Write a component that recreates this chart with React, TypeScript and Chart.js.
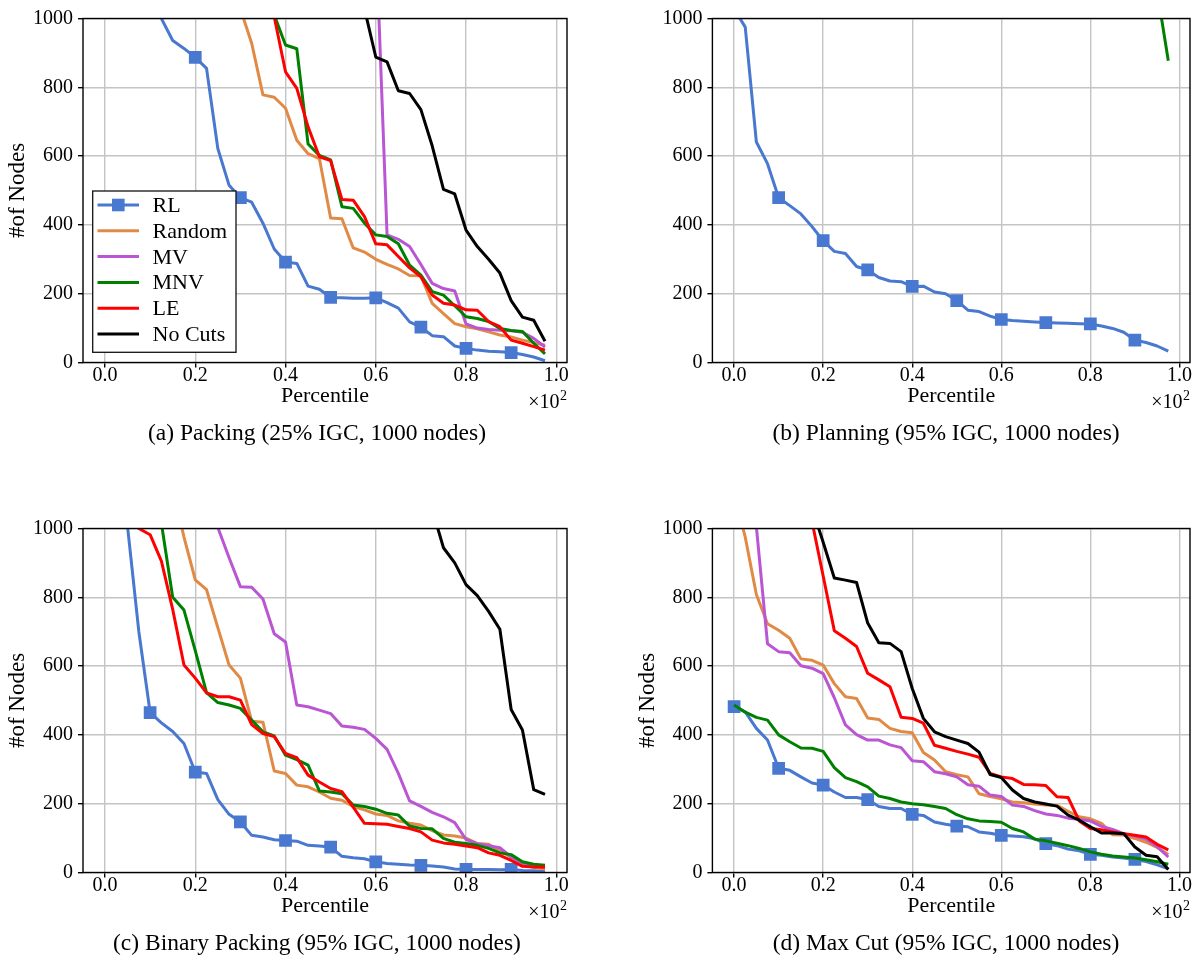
import React, { useEffect, useRef } from "react";
import { Chart, registerables } from "chart.js";

Chart.register(...registerables);

// ---------------- data ----------------
const PERCENTILES = [
  0, 0.025, 0.05, 0.075, 0.1, 0.125, 0.15, 0.175, 0.2, 0.225,
  0.25, 0.275, 0.3, 0.325, 0.35, 0.375, 0.4, 0.425, 0.45, 0.475,
  0.5, 0.525, 0.55, 0.575, 0.6, 0.625, 0.65, 0.675, 0.7, 0.725,
  0.75, 0.775, 0.8, 0.825, 0.85, 0.875, 0.9, 0.925, 0.95, 0.975,
];
const SERIES_NAMES = ["RL", "Random", "MV", "MNV", "LE", "No Cuts"];
const X_TICKS = [0, 0.2, 0.4, 0.6, 0.8, 1.0];
const Y_TICKS = [0, 200, 400, 600, 800, 1000];
const X_TITLE = "Percentile";
const Y_TITLE = "#of Nodes";

// (a) Packing (25% IGC, 1000 nodes)
const A_RL = [2600, 2200, 1850, 1500, 1250, 1000, 936, 913, 887, 855, 622, 515, 479, 466, 405, 330, 292, 288, 222, 213, 189, 188, 187, 187, 188, 174, 158, 118, 103, 78, 75, 48, 41, 36, 33, 31, 29, 23, 16, 5];
const A_RANDOM = [3200, 2900, 2600, 2300, 2050, 1850, 1650, 1480, 1340, 1220, 1120, 1060, 1028, 928, 778, 771, 739, 646, 607, 593, 420, 418, 333, 321, 300, 285, 272, 253, 252, 172, 142, 113, 104, 98, 89, 80, 74, 65, 58, 50];
const A_MV = [5000, 4800, 4600, 4400, 4200, 4000, 3800, 3600, 3400, 3200, 3000, 2800, 2600, 2400, 2200, 2000, 1850, 1700, 1600, 1500, 1430, 1370, 1320, 1280, 1250, 371, 358, 337, 285, 230, 215, 208, 112, 100, 96, 94, 92, 88, 70, 45];
const A_MNV = [3000, 2800, 2600, 2400, 2200, 2000, 1850, 1700, 1580, 1470, 1380, 1300, 1230, 1170, 1100, 1010, 923, 912, 635, 602, 589, 453, 448, 405, 371, 366, 345, 283, 254, 206, 196, 165, 133, 128, 119, 99, 93, 90, 56, 25];
const A_LE = [3100, 2850, 2650, 2450, 2250, 2050, 1880, 1720, 1600, 1490, 1390, 1310, 1240, 1180, 1110, 1005, 845, 797, 685, 598, 587, 474, 472, 424, 345, 342, 308, 275, 249, 196, 172, 167, 153, 152, 119, 104, 65, 56, 46, 36];
const A_NOCUTS = [5000, 4700, 4400, 4100, 3800, 3500, 3200, 2950, 2700, 2500, 2300, 2100, 1950, 1800, 1680, 1570, 1480, 1400, 1320, 1250, 1190, 1130, 1080, 1028, 888, 874, 790, 782, 735, 630, 503, 490, 385, 337, 300, 260, 180, 132, 123, 62];

// (b) Planning (95% IGC, 1000 nodes)
const B_RL = [1028, 975, 641, 578, 479, 456, 432, 395, 354, 323, 317, 279, 269, 247, 237, 235, 221, 222, 205, 200, 180, 152, 148, 135, 125, 122, 120, 118, 116, 115, 114, 113, 112, 106, 99, 88, 65, 58, 48, 33];
const B_RANDOM = [5200, 5000, 4850, 4700, 4550, 4400, 4250, 4100, 3950, 3800, 3650, 3500, 3380, 3260, 3140, 3020, 2900, 2800, 2700, 2600, 2500, 2420, 2340, 2260, 2180, 2100, 2030, 1960, 1890, 1820, 1760, 1700, 1640, 1580, 1520, 1460, 1400, 1340, 1280, 1220];
const B_MV = [6100, 5900, 5700, 5500, 5300, 5100, 4900, 4700, 4500, 4300, 4100, 3950, 3800, 3650, 3500, 3350, 3200, 3050, 2900, 2780, 2660, 2540, 2420, 2300, 2200, 2100, 2000, 1920, 1840, 1760, 1690, 1620, 1560, 1500, 1450, 1400, 1350, 1300, 1260, 1210];
const B_MNV = [4800, 4600, 4400, 4200, 4000, 3800, 3600, 3450, 3300, 3150, 3000, 2870, 2740, 2610, 2480, 2360, 2250, 2150, 2050, 1960, 1880, 1800, 1730, 1660, 1600, 1540, 1490, 1440, 1400, 1360, 1320, 1290, 1260, 1230, 1200, 1170, 1140, 1300, 1080, 877];
const B_LE = [5500, 5300, 5100, 4900, 4700, 4500, 4300, 4120, 3950, 3780, 3620, 3470, 3320, 3180, 3040, 2910, 2790, 2670, 2560, 2450, 2350, 2250, 2160, 2070, 1990, 1910, 1840, 1770, 1710, 1650, 1590, 1540, 1490, 1440, 1400, 1360, 1320, 1280, 1240, 1200];
const B_NOCUTS = [7000, 6800, 6600, 6400, 6200, 6000, 5800, 5600, 5400, 5200, 5000, 4800, 4600, 4400, 4250, 4100, 3950, 3800, 3650, 3500, 3380, 3260, 3140, 3020, 2900, 2790, 2680, 2580, 2480, 2390, 2300, 2220, 2140, 2060, 1990, 1920, 1850, 1780, 1720, 1660];

// (c) Binary Packing (95% IGC, 1000 nodes)
const C_RL = [1800, 1400, 1005, 700, 465, 435, 410, 375, 292, 288, 212, 169, 147, 108, 103, 95, 93, 91, 79, 77, 74, 47, 43, 40, 31, 26, 24, 22, 21, 19, 16, 10, 9, 9, 9, 8, 9, 6, 5, 3];
const C_RANDOM = [2600, 2300, 2000, 1750, 1500, 1300, 1120, 975, 851, 822, 712, 603, 565, 440, 437, 295, 288, 254, 249, 234, 216, 210, 192, 182, 170, 166, 150, 143, 138, 122, 109, 106, 100, 84, 82, 62, 45, 22, 15, 10];
const C_MV = [3500, 3300, 3100, 2900, 2700, 2500, 2300, 2000, 1700, 1400, 1003, 915, 831, 829, 795, 694, 670, 487, 482, 472, 462, 426, 422, 416, 390, 358, 288, 208, 192, 175, 162, 145, 96, 84, 78, 72, 45, 27, 20, 15];
const C_MNV = [2500, 2200, 1900, 1650, 1400, 1015, 800, 763, 645, 523, 494, 487, 477, 443, 409, 397, 341, 328, 312, 237, 234, 229, 196, 192, 184, 172, 167, 135, 128, 127, 99, 88, 84, 79, 70, 57, 52, 31, 24, 21];
const C_LE = [2000, 1600, 1250, 1000, 982, 905, 765, 603, 565, 522, 511, 511, 501, 430, 404, 395, 346, 334, 283, 263, 244, 235, 190, 143, 142, 140, 134, 128, 118, 94, 86, 82, 77, 72, 57, 50, 35, 18, 16, 16];
const C_NOCUTS = [6000, 5700, 5400, 5100, 4800, 4500, 4200, 3900, 3600, 3300, 3000, 2800, 2600, 2400, 2200, 2000, 1850, 1700, 1580, 1470, 1380, 1300, 1240, 1190, 1150, 1120, 1100, 1080, 1065, 1056, 944, 900, 837, 805, 759, 707, 474, 414, 241, 227];

// (d) Max Cut (95% IGC, 1000 nodes)
const D_RL = [482, 467, 419, 385, 303, 297, 278, 260, 254, 234, 218, 218, 212, 192, 186, 186, 169, 166, 147, 140, 135, 133, 118, 114, 108, 106, 104, 98, 84, 78, 68, 63, 53, 50, 45, 42, 38, 32, 22, 11];
const D_RANDOM = [1100, 975, 808, 723, 704, 681, 621, 617, 603, 549, 511, 506, 449, 445, 419, 410, 406, 349, 327, 293, 284, 278, 229, 221, 214, 205, 203, 199, 196, 195, 178, 162, 156, 143, 110, 109, 99, 88, 73, 52];
const D_MV = [1500, 1250, 1005, 665, 642, 639, 601, 594, 578, 508, 429, 401, 385, 385, 371, 363, 325, 322, 293, 287, 278, 255, 251, 225, 221, 196, 192, 180, 170, 166, 158, 155, 150, 134, 125, 113, 106, 97, 75, 45];
const D_MNV = [487, 466, 451, 443, 400, 380, 362, 361, 352, 305, 276, 264, 249, 222, 215, 205, 200, 197, 192, 186, 168, 156, 150, 148, 146, 128, 118, 97, 92, 85, 78, 70, 60, 53, 48, 45, 42, 37, 31, 24];
const D_LE = [3000, 2600, 2300, 2000, 1700, 1450, 1250, 1020, 862, 703, 681, 657, 579, 560, 540, 451, 448, 434, 370, 361, 352, 344, 335, 288, 278, 273, 256, 255, 253, 220, 218, 150, 128, 124, 118, 113, 108, 103, 82, 66];
const D_NOCUTS = [4000, 3500, 3000, 2600, 2200, 1800, 1450, 1060, 960, 856, 850, 843, 725, 668, 666, 642, 535, 448, 409, 395, 385, 375, 350, 285, 276, 240, 215, 205, 199, 193, 167, 152, 133, 115, 115, 113, 74, 50, 46, 9];

const CAPTIONS = [
  "(a) Packing (25% IGC, 1000 nodes)",
  "(b) Planning (95% IGC, 1000 nodes)",
  "(c) Binary Packing (95% IGC, 1000 nodes)",
  "(d) Max Cut (95% IGC, 1000 nodes)",
];

// ---------------- styles / layout ----------------
const COLORS = ["#4878cf", "#e08a45", "#ba55d3", "#008000", "#ff0000", "#000000"];
const FONT = "'Liberation Serif', 'Times New Roman', serif";
const X_MIN = -0.04875;
const X_MAX = 1.02375;

type Layout = {
  left: number;
  top: number;
  width: number;
  height: number;
  axisW: number;
  areaRight: number;
  captionX: number;
  captionTop: number;
};

const LAYOUTS: Layout[] = [
  { left: 0, top: 0, width: 600, height: 446, axisW: 83, areaRight: 567, captionX: 317, captionTop: 420 },
  { left: 630, top: 0, width: 569, height: 446, axisW: 82.4, areaRight: 565, captionX: 946, captionTop: 420 },
  { left: 0, top: 510, width: 600, height: 446, axisW: 83, areaRight: 567, captionX: 317, captionTop: 930 },
  { left: 630, top: 510, width: 569, height: 446, axisW: 82.4, areaRight: 565, captionX: 946, captionTop: 930 },
];

const AREA_TOP = 18.5;
const AREA_BOTTOM = 362.5;

const framePlugin = {
  id: "frameAndOffset",
  afterDatasetsDraw(chart: any) {
    const { ctx, chartArea: a } = chart;
    ctx.save();
    ctx.strokeStyle = "#000";
    ctx.lineWidth = 1.4;
    ctx.strokeRect(a.left, a.top, a.right - a.left, a.bottom - a.top);
    ctx.restore();
  },
  afterDraw(chart: any) {
    const { ctx, chartArea: a } = chart;
    ctx.save();
    ctx.fillStyle = "#000";
    ctx.textBaseline = "alphabetic";
    const base = a.bottom + 45.5;
    ctx.font = `14px ${FONT}`;
    const w2 = ctx.measureText("2").width;
    ctx.fillText("2", a.right - w2, base - 8);
    ctx.font = `20px ${FONT}`;
    const w10 = ctx.measureText("×10").width;
    ctx.fillText("×10", a.right - w2 - w10 - 0.5, base);
    ctx.restore();
  },
};

const legendPlugin = {
  id: "insideLegend",
  afterDraw(chart: any) {
    const { ctx, chartArea: a } = chart;
    const bx = a.left + 9.7;
    const by = a.top + 172.5;
    const bw = 143.3;
    const bh = 161.3;
    ctx.save();
    ctx.fillStyle = "#fff";
    ctx.fillRect(bx, by, bw, bh);
    ctx.strokeStyle = "#111";
    ctx.lineWidth = 1.3;
    ctx.strokeRect(bx, by, bw, bh);
    SERIES_NAMES.forEach((name, i) => {
      const cy = by + 14 + i * 25.8;
      ctx.strokeStyle = COLORS[i];
      ctx.lineWidth = 3;
      ctx.beginPath();
      ctx.moveTo(bx + 4.8, cy);
      ctx.lineTo(bx + 46.3, cy);
      ctx.stroke();
      if (i === 0) {
        ctx.fillStyle = COLORS[i];
        ctx.fillRect(bx + 25.6 - 6.3, cy - 6.3, 12.6, 12.6);
      }
      ctx.fillStyle = "#000";
      ctx.font = `22px ${FONT}`;
      ctx.textBaseline = "alphabetic";
      ctx.fillText(name, bx + 59.8, cy + 7);
    });
    ctx.restore();
  },
};

function Panel({ series, layout, legend, yTitle }: { series: number[][]; layout: Layout; legend: boolean; yTitle: boolean }) {
  const ref = useRef<HTMLCanvasElement | null>(null);
  useEffect(() => {
    const canvas = ref.current;
    if (!canvas) return;
    const grid = {
      color: "#c4c4c4",
      lineWidth: 1.4,
      tickColor: "#000",
      tickLength: 5,
      tickWidth: 1.4,
      drawTicks: true,
    };
    const chart = new Chart(canvas, {
      type: "line",
      data: {
        datasets: SERIES_NAMES.map((name, si) => ({
          label: name,
          data: PERCENTILES.map((x, i) => ({ x, y: series[si][i] })),
          borderColor: COLORS[si],
          backgroundColor: COLORS[si],
          borderWidth: 3,
          tension: 0,
          fill: false,
          clip: 0,
          order: SERIES_NAMES.length - si,
          pointStyle: "rect",
          pointRadius: si === 0 ? (c: any) => (c.dataIndex % 4 === 0 ? 9 : 0) : 0,
          pointHoverRadius: 0,
          pointBorderWidth: 0,
          pointBackgroundColor: COLORS[si],
          borderJoinStyle: "round",
          borderCapStyle: "butt",
        })),
      },
      options: {
        responsive: false,
        animation: false,
        devicePixelRatio: 1,
        events: [],
        layout: {
          padding: { left: 0, top: AREA_TOP, right: layout.width - layout.areaRight, bottom: 0 },
        },
        plugins: {
          legend: { display: false },
          tooltip: { enabled: false },
        },
        scales: {
          x: {
            type: "linear",
            min: X_MIN,
            max: X_MAX,
            afterBuildTicks: (s: any) => {
              s.ticks = X_TICKS.map((v) => ({ value: v }));
            },
            afterFit: (s: any) => {
              s.height = layout.height - AREA_BOTTOM;
            },
            ticks: {
              callback: (v: any) => Number(v).toFixed(1),
              font: { family: FONT, size: 20, lineHeight: 1 },
              color: "#000",
              padding: -2,
              maxRotation: 0,
              autoSkip: false,
            },
            grid,
            border: { display: false },
            title: {
              display: true,
              text: X_TITLE,
              font: { family: FONT, size: 22 },
              color: "#000",
              padding: { top: 0, bottom: 36.8 },
            },
          },
          y: {
            type: "linear",
            min: 0,
            max: 1000,
            afterBuildTicks: (s: any) => {
              s.ticks = Y_TICKS.map((v) => ({ value: v }));
            },
            afterFit: (s: any) => {
              s.width = layout.axisW;
            },
            ticks: {
              callback: (v: any) => String(v),
              font: { family: FONT, size: 20 },
              color: "#000",
              padding: 5,
            },
            grid,
            border: { display: false },
            title: {
              display: yTitle,
              text: Y_TITLE,
              font: { family: FONT, size: 23 },
              color: "#000",
              padding: { top: 4.6, bottom: 0 },
            },
          },
        },
      } as any,
      plugins: legend ? [framePlugin, legendPlugin] : [framePlugin],
    });
    return () => chart.destroy();
  }, []);
  return (
    <canvas
      ref={ref}
      width={layout.width}
      height={layout.height}
      style={{ position: "absolute", left: layout.left, top: layout.top, width: layout.width, height: layout.height }}
    />
  );
}

const PANEL_SERIES = [
  [A_RL, A_RANDOM, A_MV, A_MNV, A_LE, A_NOCUTS],
  [B_RL, B_RANDOM, B_MV, B_MNV, B_LE, B_NOCUTS],
  [C_RL, C_RANDOM, C_MV, C_MNV, C_LE, C_NOCUTS],
  [D_RL, D_RANDOM, D_MV, D_MNV, D_LE, D_NOCUTS],
];

export default function App() {
  return (
    <div style={{ position: "fixed", left: 0, top: 0, width: 1199, height: 956, background: "#fff", overflow: "hidden" }}>
      {PANEL_SERIES.map((s, i) => (
        <Panel key={i} series={s} layout={LAYOUTS[i]} legend={i === 0} yTitle={i !== 1} />
      ))}
      {CAPTIONS.map((c, i) => (
        <div
          key={"cap" + i}
          style={{
            position: "absolute",
            left: LAYOUTS[i].captionX - 300,
            top: LAYOUTS[i].captionTop,
            width: 600,
            textAlign: "center",
            fontFamily: FONT,
            fontSize: 23.5,
            lineHeight: "24px",
            color: "#000",
            whiteSpace: "nowrap",
          }}
        >
          {c}
        </div>
      ))}
    </div>
  );
}
